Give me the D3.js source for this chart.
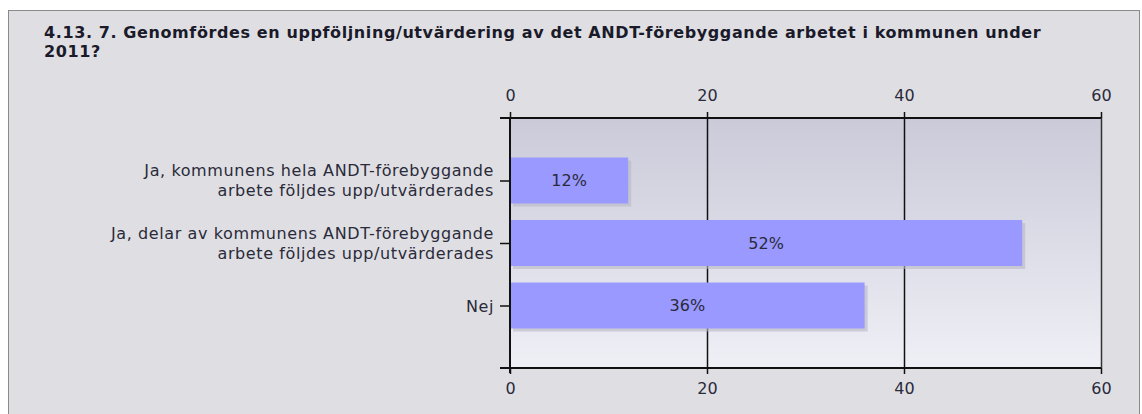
<!DOCTYPE html>
<html>
<head>
<meta charset="utf-8">
<script src="https://cdn.jsdelivr.net/npm/d3@7"></script>
<style>
  body { margin: 0; background: #fff; }
  svg { display: block; font-family: "DejaVu Sans", Verdana, sans-serif; }
</style>
</head>
<body>
<div id="chart"></div>
<script>
// data
var categories = [
  ["Ja, kommunens hela ANDT-förebyggande", "arbete följdes upp/utvärderades"],
  ["Ja, delar av kommunens ANDT-förebyggande", "arbete följdes upp/utvärderades"],
  ["Nej"]
];
var values = [12, 52, 36];
var tickValues = [0, 20, 40, 60];
var titleLines = [
  "4.13. 7. Genomfördes en uppföljning/utvärdering av det ANDT-förebyggande arbetet i kommunen under",
  "2011?"
];

var W = 1142, H = 414;
var plot = {left: 510, right: 1101, top: 118, bottom: 368};

var svg = d3.select("#chart").append("svg")
  .attr("width", W)
  .attr("height", H);

var defs = svg.append("defs");
var grad = defs.append("linearGradient")
  .attr("id", "bg").attr("x1", 0).attr("y1", 0).attr("x2", 0).attr("y2", 1);
grad.append("stop").attr("offset", "0%").attr("stop-color", "#cacad9");
grad.append("stop").attr("offset", "100%").attr("stop-color", "#efeff6");

// panel
svg.append("rect")
  .attr("x", 8.5).attr("y", 10.5)
  .attr("width", 1131).attr("height", 420)
  .attr("fill", "#dfdfe3")
  .attr("stroke", "#8a8a8a");

var title = svg.append("text")
  .attr("x", 44).attr("y", 38)
  .attr("font-size", 16)
  .attr("letter-spacing", 0.6)
  .attr("font-weight", "bold")
  .attr("fill", "#1a1a2a");
title.selectAll("tspan").data(titleLines).enter().append("tspan")
  .attr("x", 44)
  .attr("dy", function(d, i) { return i ? 19 : 0; })
  .text(function(d) { return d; });

var x = d3.scaleLinear().domain([0, 60]).range([plot.left, plot.right]);
var y = d3.scalePoint().domain(d3.range(categories.length))
  .range([plot.top, plot.bottom]).padding(1);
var barH = 46;

// plot background
svg.append("rect")
  .attr("x", plot.left).attr("y", plot.top)
  .attr("width", plot.right - plot.left).attr("height", plot.bottom - plot.top)
  .attr("fill", "url(#bg)");

// grid
svg.append("g").selectAll("line")
  .data(tickValues.slice(1, -1)).enter().append("line")
  .attr("x1", function(d) { return x(d) + 0.5; })
  .attr("x2", function(d) { return x(d) + 0.5; })
  .attr("y1", plot.top).attr("y2", plot.bottom)
  .attr("stroke", "#111").attr("stroke-width", 1.5);

// bar shadows
svg.append("g").selectAll("rect")
  .data(values).enter().append("rect")
  .attr("x", x(0) + 3)
  .attr("y", function(d, i) { return y(i) - barH / 2 + 3; })
  .attr("width", function(d) { return x(d) - x(0); })
  .attr("height", barH)
  .attr("fill", "#b8b8c4").attr("opacity", 0.6);

// bars
svg.append("g").selectAll("rect")
  .data(values).enter().append("rect")
  .attr("x", x(0))
  .attr("y", function(d, i) { return y(i) - barH / 2; })
  .attr("width", function(d) { return x(d) - x(0); })
  .attr("height", barH)
  .attr("fill", "#9999ff");

svg.append("g").selectAll("text")
  .data(values).enter().append("text")
  .attr("x", function(d) { return (x(0) + x(d)) / 2; })
  .attr("y", function(d, i) { return y(i) + 5.5; })
  .attr("text-anchor", "middle")
  .attr("font-size", 16)
  .attr("fill", "#2a2a3a")
  .text(function(d) { return d + "%"; });

// axes
var axisTop = d3.axisTop(x).tickValues(tickValues).tickSize(6);
var axisBottom = d3.axisBottom(x).tickValues(tickValues).tickSize(6);

function styleAxis(g, ty) {
  g.select(".domain").remove();
  g.selectAll(".tick line").attr("stroke", "#111").attr("stroke-width", 1.5);
  g.selectAll(".tick text").attr("font-size", 16).attr("fill", "#2a2a3a")
    .attr("font-family", "DejaVu Sans, Verdana, sans-serif")
    .attr("y", ty).attr("dy", 0);
}

svg.append("g").attr("transform", "translate(0," + plot.top + ")").call(axisTop).call(styleAxis, -17);
svg.append("g").attr("transform", "translate(0," + plot.bottom + ")").call(axisBottom).call(styleAxis, 26);

// frame lines
svg.append("line").attr("x1", plot.left - 10).attr("x2", plot.right + 0.5)
  .attr("y1", plot.top).attr("y2", plot.top).attr("stroke", "#111").attr("stroke-width", 2);
svg.append("line").attr("x1", plot.left - 10).attr("x2", plot.right + 0.5)
  .attr("y1", plot.bottom).attr("y2", plot.bottom).attr("stroke", "#111").attr("stroke-width", 2);
svg.append("line").attr("x1", plot.left).attr("x2", plot.left)
  .attr("y1", plot.top).attr("y2", plot.bottom + 5).attr("stroke", "#111").attr("stroke-width", 2);
svg.append("line").attr("x1", plot.right + 0.5).attr("x2", plot.right + 0.5)
  .attr("y1", plot.top).attr("y2", plot.bottom).attr("stroke", "#333").attr("stroke-width", 1.5);

// category axis
var axisLeft = d3.axisLeft(y).tickSize(10).tickFormat("");
var gl = svg.append("g").attr("transform", "translate(" + plot.left + ",0)").call(axisLeft);
gl.select(".domain").remove();
gl.selectAll(".tick line").attr("stroke", "#111").attr("stroke-width", 1.5);

var labels = svg.append("g").selectAll("text")
  .data(categories).enter().append("text")
  .attr("text-anchor", "end")
  .attr("font-size", 16)
  .attr("letter-spacing", 0.6)
  .attr("fill", "#2a2a3a")
  .attr("y", function(d, i) { return y(i) + 6 - (d.length - 1) * 10.5; });
labels.selectAll("tspan").data(function(d) { return d; }).enter().append("tspan")
  .attr("x", 494)
  .attr("dy", function(d, i) { return i ? 20 : 0; })
  .text(function(d) { return d; });
</script>
</body>
</html>
